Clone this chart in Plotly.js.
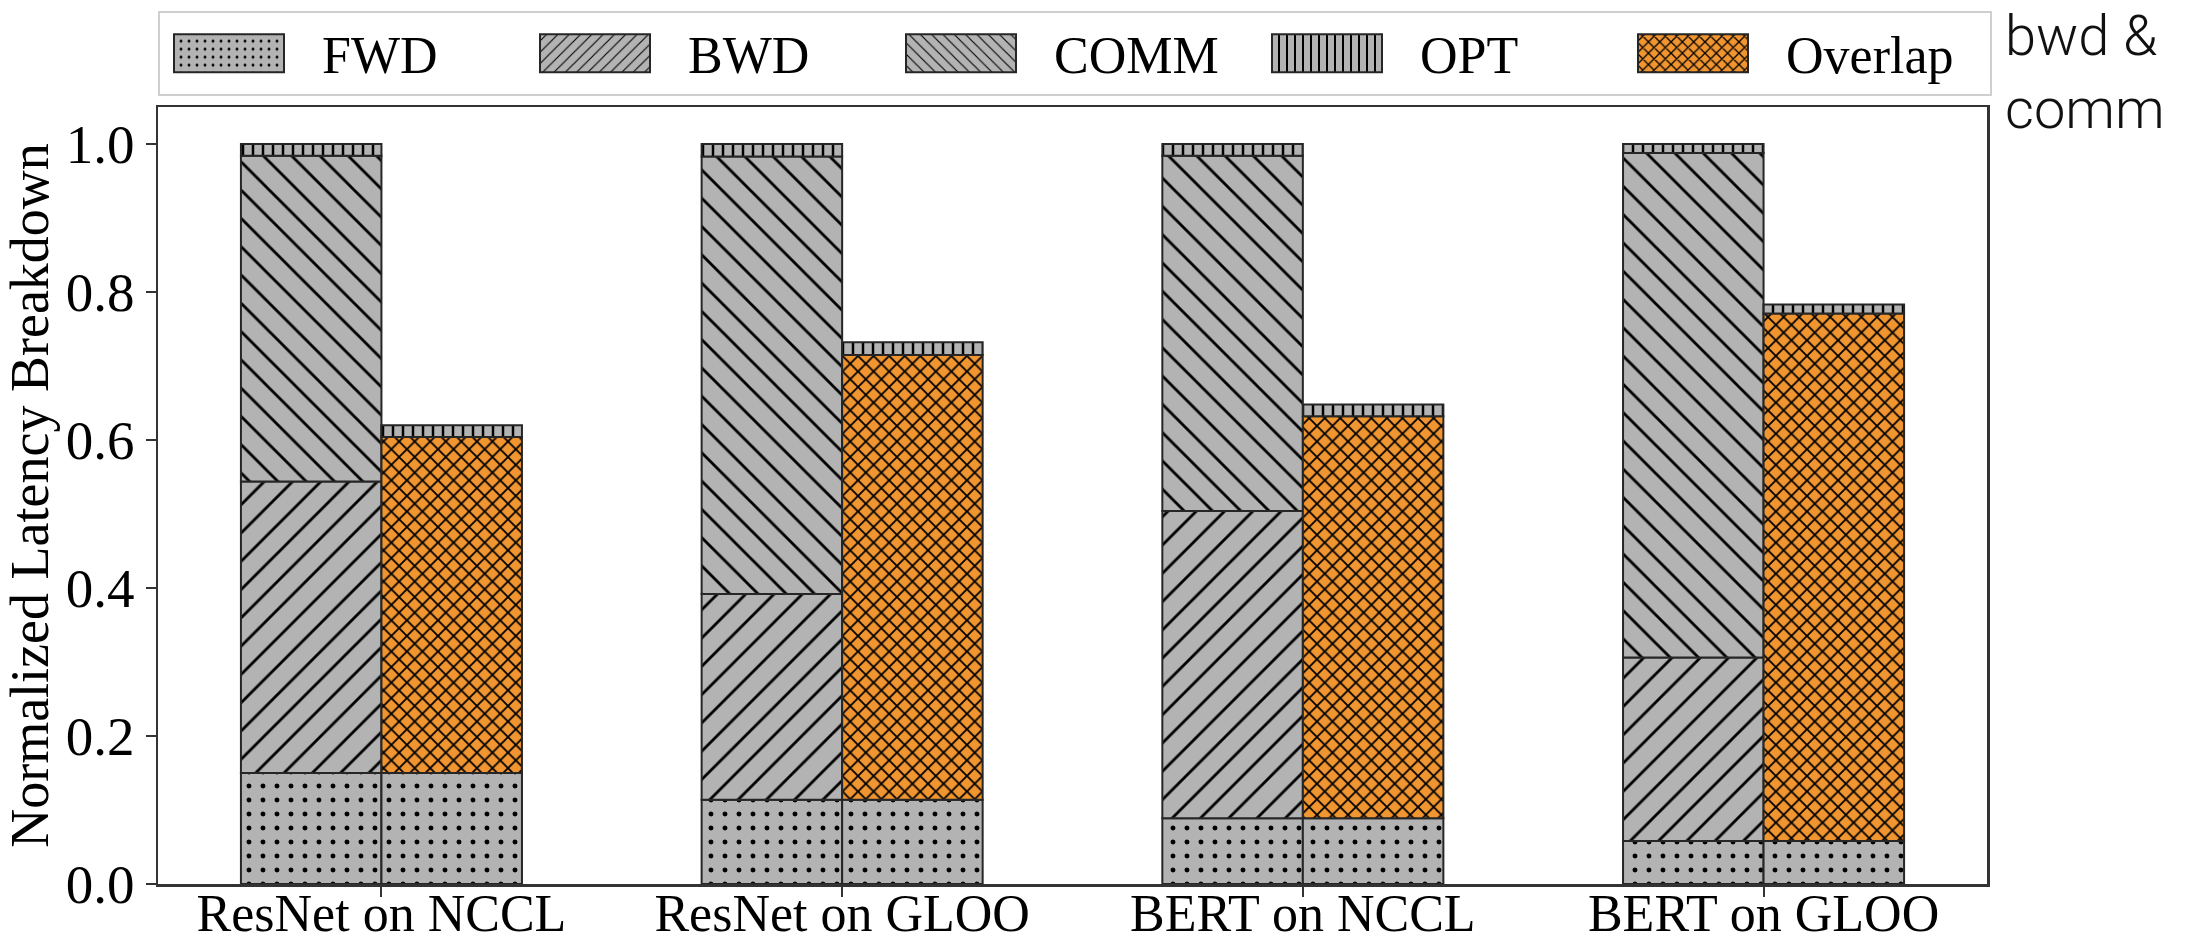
<!DOCTYPE html>
<html><head><meta charset="utf-8">
<script src="https://cdn.plot.ly/plotly-3.0.1.min.js"></script>
<style>html,body{margin:0;padding:0;background:#fff;} #chart{width:2207px;height:945px;}</style>
</head><body><div id="chart"></div>
<script>
// ---- data ----
const categories = ['ResNet on NCCL', 'ResNet on GLOO', 'BERT on NCCL', 'BERT on GLOO'];
const fwd     = [0.150, 0.114, 0.089, 0.058];
const bwd     = [0.394, 0.278, 0.415, 0.248];
const comm    = [0.440, 0.591, 0.480, 0.682];
const opt     = [0.016, 0.017, 0.016, 0.012];
const overlap = [0.454, 0.601, 0.543, 0.713];   // bwd & comm overlapped
const yTickVals = [0, 0.2, 0.4, 0.6, 0.8, 1.0];
const yTickText = ['0.0', '0.2', '0.4', '0.6', '0.8', '1.0'];
const seriesNames = ['FWD', 'BWD', 'COMM', 'OPT', 'Overlap'];
const sideNote = 'bwd &<br>comm';

// ---- styling ----
const add = (a, b) => a.map((v, i) => v + b[i]);
const zeros = categories.map(() => 0);
const W = 0.305;
const GRAY = '#b3b3b3', ORANGE = '#f0952f', EDGE = '#262626';
const patterns = {
  FWD:     {shape: '.', size: 14, solidity: 0.1},
  BWD:     {shape: '/', size: 20, solidity: 0.14},
  COMM:    {shape: '\\', size: 20, solidity: 0.14},
  OPT:     {shape: '|', size: 10, solidity: 0.25},
  Overlap: {shape: 'x', size: 11, solidity: 0.3}
};
function bar(name, y, base, offset, color, showlegend) {
  const p = patterns[name];
  return {
    type: 'bar', name: name, x: categories, y: y, base: base,
    offset: offset, width: W, showlegend: showlegend, legendgroup: name,
    hoverinfo: 'skip',
    marker: {
      color: color,
      line: {color: EDGE, width: 2},
      pattern: {shape: p.shape, size: p.size, solidity: p.solidity,
                fgcolor: '#000', bgcolor: color, fillmode: 'replace'}
    }
  };
}
const baseBwd = fwd;
const baseComm = add(fwd, bwd);
const baseOptL = add(baseComm, comm);
const baseOptR = add(fwd, overlap);

const traces = [
  bar(seriesNames[0], fwd, zeros, -W, GRAY, true),
  bar(seriesNames[0], fwd, zeros, 0, GRAY, false),
  bar(seriesNames[1], bwd, baseBwd, -W, GRAY, true),
  bar(seriesNames[2], comm, baseComm, -W, GRAY, true),
  bar(seriesNames[3], opt, baseOptL, -W, GRAY, true),
  bar(seriesNames[4], overlap, fwd, 0, ORANGE, true),
  bar(seriesNames[3], opt, baseOptR, 0, GRAY, false)
];

const axisCommon = {
  showline: true, mirror: true, linecolor: '#333', linewidth: 2.5,
  ticks: 'outside', ticklen: 10, tickwidth: 2, tickcolor: '#333',
  showgrid: false, zeroline: false
};

const layout = {
  width: 2207, height: 945,
  margin: {l: 158, r: 220, t: 106, b: 61},
  paper_bgcolor: '#fff', plot_bgcolor: '#fff',
  barmode: 'overlay',
  font: {family: '"Liberation Serif", "Times New Roman", serif', size: 52, color: '#000'},
  xaxis: Object.assign({}, axisCommon, {
    type: 'category', range: [-0.485, 3.485],
    tickfont: {size: 52, color: '#000'}, ticklabelstandoff: -28
  }),
  yaxis: Object.assign({}, axisCommon, {
    range: [0, 1.05], tickvals: yTickVals, ticktext: yTickText,
    tickfont: {size: 55, color: '#000'},
    title: {text: 'Normalized Latency Breakdown', font: {size: 54, color: '#000'}, standoff: 2}
  }),
  legend: {
    orientation: 'h', x: 0, xanchor: 'left', y: 1.013, yanchor: 'bottom',
    bgcolor: '#fff', bordercolor: '#cfcfcf', borderwidth: 2,
    font: {size: 52, color: '#000'}, itemwidth: 152,
    entrywidth: 199, entrywidthmode: 'pixels', traceorder: 'normal'
  },
  annotations: [
    {text: sideNote, xref: 'paper', yref: 'paper', x: 1.009, y: 1.045, xanchor: 'left', yanchor: 'middle',
     align: 'left', showarrow: false,
     font: {family: 'Roboto, "Open Sans", sans-serif', size: 56, weight: 300, color: '#111'}}
  ]
};

Plotly.newPlot('chart', traces, layout, {displayModeBar: false, staticPlot: true}).then(function () {
  document.querySelectorAll('#chart .legend .legendpoints path').forEach(function (p) {
    p.setAttribute('d', 'M43,19H-67V-19H43Z');
  });
});
</script>
</body></html>
